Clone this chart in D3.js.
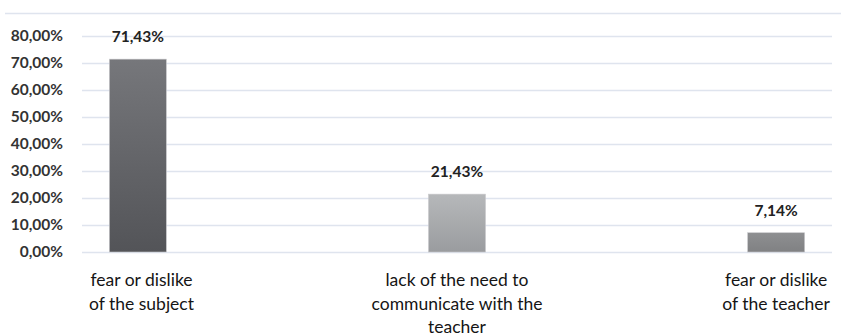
<!DOCTYPE html>
<html>
<head>
<meta charset="utf-8">
<script src="https://cdn.jsdelivr.net/npm/d3@7"></script>
<style>
  body { margin: 0; background: #fff; }
  text { font-family: Lato, "Open Sans", sans-serif; fill: #222; }
</style>
</head>
<body>
<svg id="chart"></svg>
<script>
// chart data
var categories = [
    ["fear or dislike", "of the subject"],
    ["lack of the need to", "communicate with the", "teacher"],
    ["fear or dislike", "of the teacher"]
];
var values = [71.43, 21.43, 7.14];
var yTicks = [0, 10, 20, 30, 40, 50, 60, 70, 80];
var barColors = [["#76777b", "#535458"], ["#b6b8ba", "#9a9c9f"], ["#8e8f91", "#808183"]];

var width = 841, height = 336;
var svg = d3.select("#chart").attr("width", width).attr("height", height);

var locale = d3.formatLocale({decimal: ",", thousands: ".", grouping: [3], currency: ["", ""]});
var fmt = locale.format(".2f");

// scales
var x = d3.scalePoint()
    .domain(d3.range(categories.length))
    .range([82, 832])
    .padding(0.175);

var y = d3.scaleLinear()
    .domain([0, 80])
    .range([252, 36]);

// top border line
svg.append("line")
    .attr("x1", 5).attr("x2", 841)
    .attr("y1", 13.5).attr("y2", 13.5)
    .attr("stroke", "#dfe4ee").attr("stroke-width", 1.5);

// y axis with gridlines
var yAxis = svg.append("g")
    .attr("transform", "translate(82,0)")
    .call(d3.axisLeft(y).tickValues(yTicks).tickSize(-750).tickFormat(function(d) { return fmt(d) + "%"; }));
yAxis.select(".domain").remove();
yAxis.selectAll(".tick line").attr("stroke", "#dfe4ee").attr("stroke-width", 1.5);
yAxis.selectAll(".tick text")
    .attr("x", -19)
    .style("font-size", "15.5px")
    .style("font-weight", "bold")
    .style("fill", "#333");

// gradients
var defs = svg.append("defs");
barColors.forEach(function(c, i) {
    var g = defs.append("linearGradient").attr("id", "grad" + i)
        .attr("x1", 0).attr("x2", 0).attr("y1", 0).attr("y2", 1);
    g.append("stop").attr("offset", "0%").attr("stop-color", c[0]);
    g.append("stop").attr("offset", "100%").attr("stop-color", c[1]);
});

var barW = 57;

// bars
svg.selectAll(".bar")
    .data(values)
    .join("rect")
    .attr("class", "bar")
    .attr("x", function(d, i) { return x(i) - barW / 2; })
    .attr("y", function(d) { return y(d); })
    .attr("width", barW)
    .attr("height", function(d) { return y(0) - y(d); })
    .attr("fill", function(d, i) { return "url(#grad" + i + ")"; })
    .attr("stroke", "#c8c9cb")
    .attr("stroke-width", 0.6);

// value labels
svg.selectAll(".val")
    .data(values)
    .join("text")
    .attr("class", "val")
    .attr("x", function(d, i) { return x(i); })
    .attr("y", function(d) { return y(d) - 17; })
    .attr("text-anchor", "middle")
    .style("font-size", "15.5px")
    .style("font-weight", "bold")
    .text(function(d) { return fmt(d) + "%"; });

// category labels, kept inside the plot area
var minX = 89, maxX = 831;
categories.forEach(function(lines, i) {
    var t = svg.append("text")
        .attr("x", x(i))
        .attr("y", 286)
        .attr("text-anchor", "middle")
        .style("font-size", "17.5px")
        .style("fill", "#151515");
    lines.forEach(function(l, j) {
        t.append("tspan").attr("x", x(i)).attr("dy", j === 0 ? 0 : 23.5).text(l);
    });
    var bb = t.node().getBBox();
    var shift = 0;
    if (bb.x < minX) shift = minX - bb.x;
    if (bb.x + bb.width > maxX) shift = maxX - (bb.x + bb.width);
    t.selectAll("tspan").attr("x", x(i) + shift);
});
</script>
</body>
</html>
